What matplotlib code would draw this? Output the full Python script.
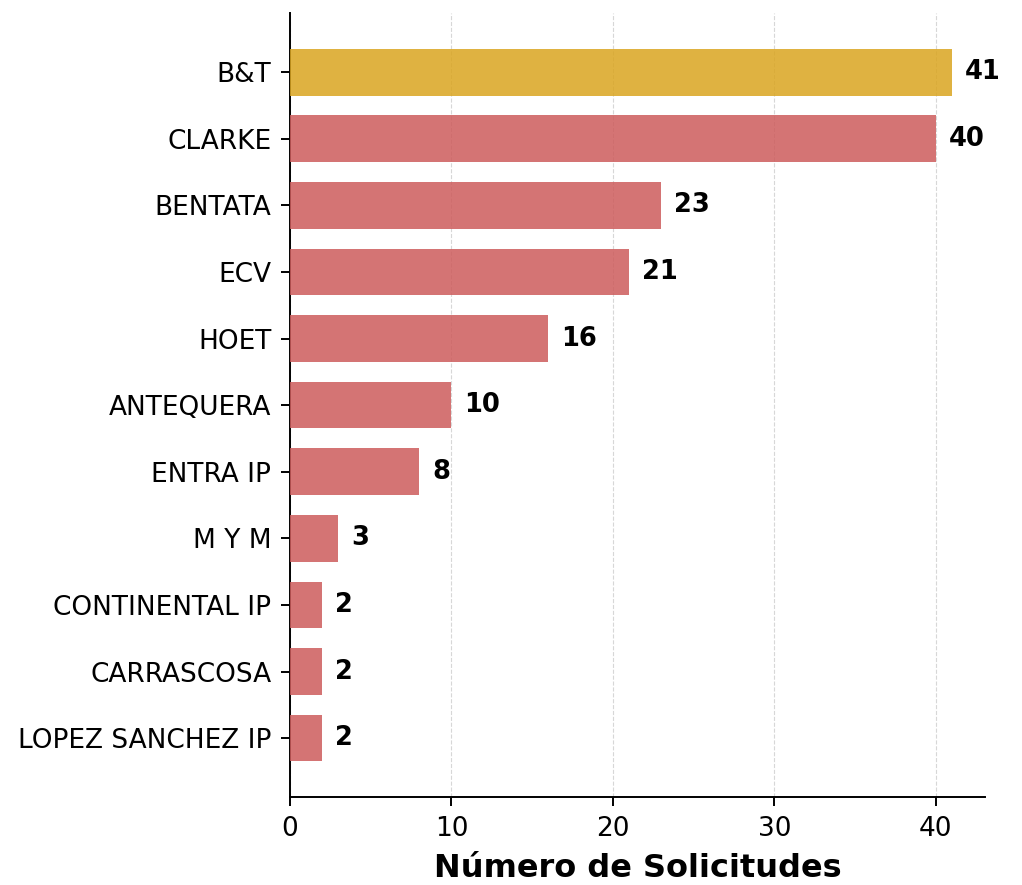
import matplotlib
matplotlib.use("Agg")
import matplotlib.pyplot as plt
from matplotlib.ticker import MultipleLocator

plt.rcParams["font.family"] = ["DejaVu Sans"]

agents = ["B&T", "CLARKE", "BENTATA", "ECV", "HOET", "ANTEQUERA", "ENTRA IP",
          "M Y M", "CONTINENTAL IP", "CARRASCOSA", "LOPEZ SANCHEZ IP"]
counts = [41, 40, 23, 21, 16, 10, 8, 3, 2, 2, 2]
highlight = "B&T"

fig = plt.figure(figsize=(10.22, 8.85), dpi=100)
ax = fig.add_axes([0.2838, 0.0994, 0.68, 0.8856])

colors = ["#DAA520" if a == highlight else "#CD5C5C" for a in agents]
y = list(range(len(agents)))
ax.barh(y, counts, height=0.7, color=colors, alpha=0.85, zorder=3)
ax.set_yticks(y)
ax.set_yticklabels(agents)
ax.invert_yaxis()
ax.set_xlim(0, max(counts) * 1.05)
ax.xaxis.set_major_locator(MultipleLocator(10))

for yi, v in zip(y, counts):
    ax.text(v + 0.8, yi, str(v), va="center", ha="left", fontsize=18.5,
            fontweight="bold")

ax.set_xlabel("Número de Solicitudes", fontsize=23, fontweight="bold",
              labelpad=8)
ax.tick_params(axis="both", labelsize=19, width=1.4, length=6.5, pad=7)
ax.grid(axis="x", linestyle="--", alpha=0.5, zorder=0)
ax.spines["top"].set_visible(False)
ax.spines["right"].set_visible(False)
for s in ("left", "bottom"):
    ax.spines[s].set_linewidth(1.4)

fig.savefig("out.png", dpi=100)
